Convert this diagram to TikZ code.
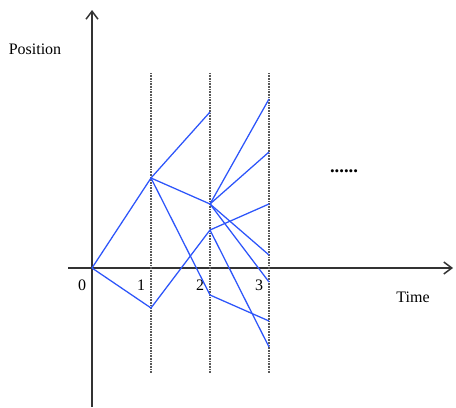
\documentclass[tikz,border=0pt]{standalone}
\usepackage{fontspec}
\setmainfont{Liberation Serif}
\usetikzlibrary{arrows.meta}
\definecolor{pathblue}{RGB}{45,85,250}

\begin{document}
\begin{tikzpicture}[x=0.75pt, y=-0.75pt,
   every node/.style={font=\fontsize{12}{14}\selectfont},
   axis/.style={draw=black!80, line width=1.1pt, -{Straight Barb[length=6pt,width=9pt,line width=1.1pt]}},
   step line/.style={draw=black!65, dash pattern=on 0.6pt off 0.6pt, line width=0.9pt},
   path line/.style={draw=pathblue, line width=0.95pt}]
\useasboundingbox (0,0) rectangle (456,407);
% axes
\coordinate (xs) at (68,268);
\coordinate (xe) at (453,268);
\coordinate (ys) at (92,407);
\coordinate (ye) at (92,10);
\draw[axis] (xs) -- (xe);
\draw[axis] (ys) -- (ye);
% time steps
\foreach \t/\x in {1/151, 2/210, 3/269} {
  \coordinate (top\t) at (\x,73);
  \coordinate (bot\t) at (\x,373);
  \draw[step line] (top\t) -- (bot\t);
}
% labels
\node (pos)  at (35,49)  {Position};
\node (time) at (413,297) {Time};
\node (l0) at (82,285) {0};
\node (l1) at (141,285) {1};
\node (l2) at (200,285) {2};
\node (l3) at (259,285) {3};
\node (more) at (344,171) {\fontsize{14}{14}\selectfont\textbf{......}};
% random paths
\coordinate (o)  at (92,268);
\coordinate (a)  at (151,178);
\coordinate (b)  at (151,308);
\coordinate (a1) at (210,112);
\coordinate (c)  at (210,204);
\coordinate (e)  at (210,295);
\coordinate (d)  at (210,230);
\coordinate (c1) at (269,99);
\coordinate (c2) at (269,152);
\coordinate (c3) at (269,255);
\coordinate (c4) at (269,282);
\coordinate (d1) at (269,204);
\coordinate (d2) at (269,347);
\coordinate (e1) at (269,321);
\draw[path line] (o) -- (a) -- (a1);
\draw[path line] (o) -- (b) -- (d) -- (d1);
\draw[path line] (a) -- (c) -- (c1);
\draw[path line] (a) -- (e) -- (e1);
\draw[path line] (c) -- (c2);
\draw[path line] (c) -- (c3);
\draw[path line] (c) -- (c4);
\draw[path line] (d) -- (d2);
\end{tikzpicture}
\end{document}
